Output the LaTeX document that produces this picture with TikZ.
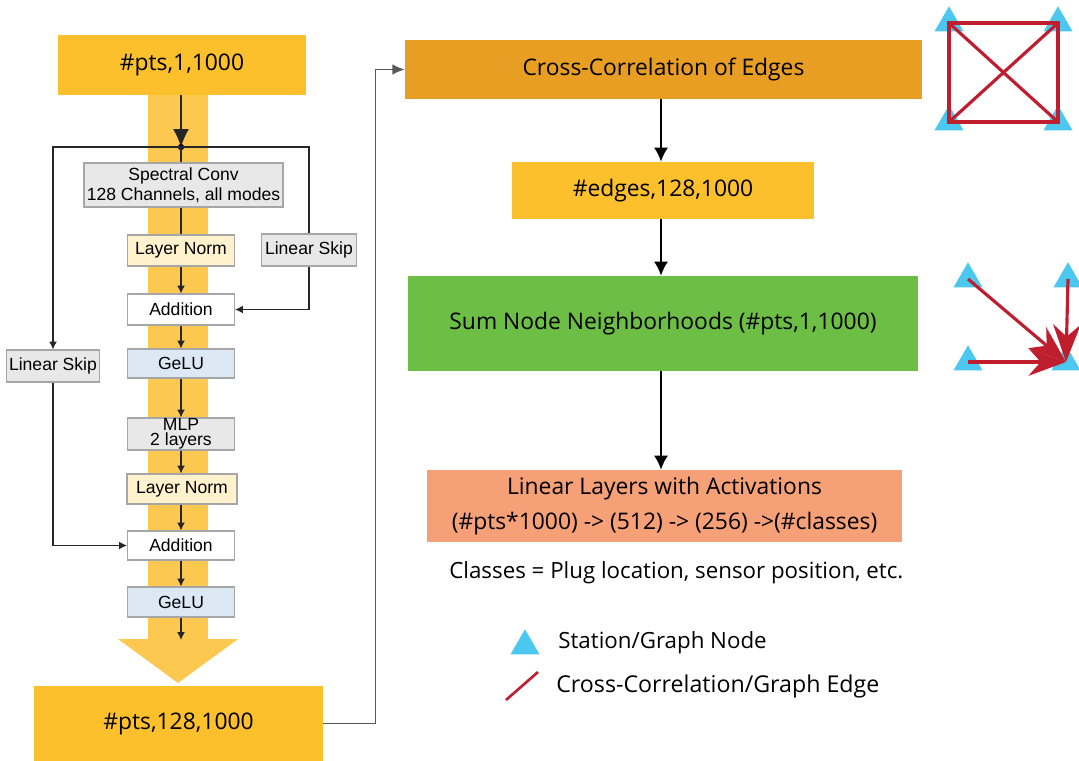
\documentclass[tikz,border=0pt]{standalone}
\usepackage{fontspec}
\setmainfont{Open Sans}
\newfontfamily\opfont{Liberation Sans}
\usetikzlibrary{arrows.meta,shapes.geometric}

\definecolor{ptsyellow}{RGB}{252,192,45}
\definecolor{bandyellow}{RGB}{253,200,80}
\definecolor{xcorange}{RGB}{232,158,35}
\definecolor{sumgreen}{RGB}{109,190,69}
\definecolor{linsalmon}{RGB}{245,160,118}
\definecolor{opgray}{RGB}{232,232,232}
\definecolor{normyellow}{RGB}{255,242,204}
\definecolor{gelublue}{RGB}{221,232,245}
\definecolor{edgered}{RGB}{190,30,45}
\definecolor{stationblue}{RGB}{76,200,240}

\tikzset{
  bigbox/.style={rectangle, inner sep=0pt, align=center, font=\fontsize{13}{20}\selectfont},
  op/.style={rectangle, draw=black!35, line width=0.6pt, inner sep=0pt, align=center,
    minimum width=2.14cm, minimum height=0.62cm, font=\opfont\fontsize{10}{11.5}\selectfont},
  wire/.style={draw=black!85, line width=0.7pt},
  arr/.style={-{Latex[length=4.5pt,width=4.5pt]}},
  flow/.style={draw=black, line width=0.9pt, -{Latex[length=8pt,width=8pt]}},
  station/.style={regular polygon, regular polygon sides=3, fill=stationblue, inner sep=0pt, minimum size=0.67cm},
  corr/.style={edgered, line width=1.8pt},
  note/.style={anchor=west, inner sep=0pt, font=\fontsize{12.7}{14}\selectfont},
}

\begin{document}
\begin{tikzpicture}[x=0.02cm, y=-0.02cm]
\useasboundingbox (0,0) rectangle (1079,761);

% wide band behind the spectral block
\fill[bandyellow] (148,95) rectangle (208,639);
\fill[bandyellow] (118,639) -- (238,639) -- (178,683) -- cycle;

\node[bigbox, fill=ptsyellow, minimum width=4.96cm, minimum height=1.2cm] (in) at (182,65) {\#pts,1,1000};
\node[bigbox, fill=ptsyellow, minimum width=5.78cm, minimum height=1.5cm] (out) at (178.5,723.5) {\#pts,128,1000};

% spectral block
\coordinate (split) at (181,147);
\node[op, fill=opgray, minimum width=3.98cm, minimum height=0.88cm] (spec) at (183.5,185) {Spectral Conv\\128 Channels, all modes};
\node[op, fill=normyellow] (ln1) at (181,250.5) {Layer Norm};
\node[op, fill=opgray, minimum width=1.9cm, minimum height=0.64cm] (skipR) at (309,250) {Linear Skip};
\node[op, fill=white] (add1) at (181,309.5) {Addition};
\node[op, fill=gelublue, minimum height=0.58cm] (gelu1) at (181,363.5) {GeLU};
\node[op, fill=opgray, minimum width=1.86cm, minimum height=0.64cm] (skipL) at (53,366) {Linear Skip};
\node[op, fill=opgray, minimum height=0.64cm, font=\opfont\fontsize{10}{8.5}\selectfont] (mlp) at (181,434) {MLP\\2 layers};
\node[op, fill=normyellow, minimum width=2.2cm, minimum height=0.6cm] (ln2) at (182,489) {Layer Norm};
\node[op, fill=white, minimum height=0.58cm] (add2) at (181,545.5) {Addition};
\node[op, fill=gelublue, minimum height=0.6cm] (gelu2) at (181,602) {GeLU};
\coordinate (gend) at (181,640);

\draw[wire, -{Latex[length=0.36cm,width=0.32cm]}] (in.south -| split) -- (split);
\fill (split) circle (1.8pt);
\draw[wire] (split) -- (spec.north -| split);
\draw[wire, arr] (split) -| (skipL.north);
\draw[wire] (split) -| (skipR.north);
\draw[wire] (spec.south -| ln1) -- (ln1);
\draw[wire, arr] (ln1) -- (add1);
\draw[wire, arr] (skipR.south) |- (add1.east);
\draw[wire, arr] (add1) -- (gelu1);
\draw[wire, arr] (gelu1) -- (mlp);
\draw[wire, arr] (mlp) -- (ln2.north -| mlp);
\draw[wire, arr] (ln2.south -| mlp) -- (add2);
\draw[wire, arr] (skipL.south) |- (add2.west);
\draw[wire, arr] (add2) -- (gelu2);
\draw[wire, arr] (gelu2) -- (gend);

% graph part
\node[bigbox, fill=xcorange, minimum width=10.34cm, minimum height=1.18cm] (xc) at (663.5,69.5) {Cross-Correlation of Edges};
\node[bigbox, fill=ptsyellow, minimum width=6.04cm, minimum height=1.14cm] (edges) at (663,190.5) {\#edges,128,1000};
\node[bigbox, fill=sumgreen, minimum width=10.2cm, minimum height=1.9cm] (sum) at (663,323.5) {Sum Node Neighborhoods (\#pts,1,1000)};
\node[bigbox, fill=linsalmon, minimum width=9.5cm, minimum height=1.44cm] (lin) at (664.5,506) {Linear Layers with Activations\\(\#pts*1000) -> (512) -> (256) ->(\#classes)};
\node[note] (cls) at (449,573) {Classes = Plug location, sensor position, etc.};

\draw[draw=black!65, line width=0.8pt, -{Latex[length=7pt,width=6pt]}] (out.east) -- ++(52,0) |- (xc.west);

\draw[flow] (xc.south -| 661,0) -- (edges.north -| 661,0);
\draw[flow] (edges.south -| 661,0) -- (sum.north -| 661,0);
\draw[flow] (sum.south -| 661,0) -- (lin.north -| 661,0);

% fully connected stations
\node[station] (a1) at (949,23) {};
\node[station] (a2) at (1058,23) {};
\node[station] (a3) at (949,122) {};
\node[station] (a4) at (1058,122) {};
\draw[corr] (a1.center) -- (a2.center) -- (a4.center) -- (a3.center) -- cycle;
\draw[corr] (a1.center) -- (a4.center);
\draw[corr] (a2.center) -- (a3.center);

% neighbours summed into one station
\node[station] (b1) at (968,279) {};
\node[station] (b2) at (1068,279) {};
\node[station] (b3) at (968,362) {};
\node[station] (b4) at (1066,362) {};
\draw[corr, -{Stealth[length=0.75cm 0,width=0.55cm 0]}] (b1.center) -- (b4.center);
\draw[corr, -{Stealth[length=0.75cm 0,width=0.55cm 0]}] (b2.center) -- (b4.center);
\draw[corr, -{Stealth[length=0.75cm 0,width=0.55cm 0]}] (b3.center) -- (b4.center);

% legend
\node[station] (key) at (525,646) {};
\node[note] (keytxt) at (558,643) {Station/Graph Node};
\draw[corr, line width=1.5pt] (506,700) -- (538,672);
\node[note, font=\fontsize{13.2}{15}\selectfont] (edgetxt) at (556,686) {Cross-Correlation/Graph Edge};
\end{tikzpicture}
\end{document}
